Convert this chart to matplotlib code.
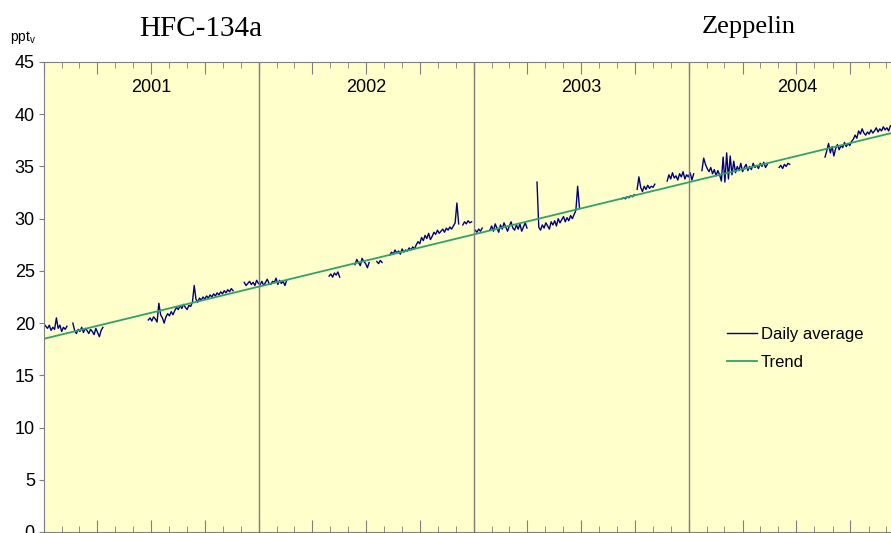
import numpy as np
import matplotlib
matplotlib.use("Agg")
import matplotlib.pyplot as plt
import matplotlib.dates as mdates

# daily averages, one value every 3 days from each start date
step_days = 3
seg_starts = ['2001-01-01', '2001-02-19', '2001-06-27', '2001-12-07', '2002-04-30',
              '2002-06-13', '2002-07-20', '2002-08-11', '2002-12-13', '2003-01-03',
              '2003-01-28', '2003-04-18', '2003-09-09', '2003-10-05', '2003-11-25',
              '2004-01-23', '2004-06-02', '2004-08-19']
seg_values = [
    [19.9, 19.7, 19.5, 19.8, 19.3, 19.6, 19.4, 20.5, 19.5, 19.8, 19.2, 19.6, 19.4, 19.7],
    [20.0, 19.3, 19.0, 19.4, 19.2, 19.6, 19.1, 19.5, 19.3, 19.0, 19.4, 19.2, 18.9, 19.5,
     19.1, 18.7, 19.3, 19.6],
    [20.3, 20.5, 20.2, 20.6, 20.4, 20.1, 21.9, 20.8, 20.5, 20.0, 20.6, 20.9, 20.7, 21.1,
     20.8, 21.2, 21.5, 21.3, 21.7, 21.4, 21.8, 21.5, 21.3, 21.7, 21.6, 22.0, 23.6, 22.3,
     22.0, 22.4, 22.2, 22.5, 22.3, 22.6, 22.4, 22.7, 22.5, 22.8, 22.6, 22.9, 22.7, 23.0,
     22.8, 23.1, 22.9, 23.2, 23.0, 23.3, 23.1],
    [23.9, 23.6, 23.8, 24.0, 23.7, 23.9, 23.6, 24.1, 23.8, 23.7, 24.0, 23.6, 23.9, 24.2,
     23.8, 23.7, 24.0, 23.9, 24.3, 23.7, 24.1, 23.8, 24.0, 23.6, 24.1],
    [24.5, 24.7, 24.4, 24.8, 24.6, 24.9, 24.4],
    [25.6, 26.1, 25.8, 25.5, 26.2, 25.9, 25.7, 25.3, 25.8],
    [25.9, 25.7, 26.0, 25.8],
    [26.5, 26.8, 26.6, 27.0, 26.7, 26.9, 26.6, 27.1, 26.8, 27.0, 26.9, 27.2, 27.0, 27.3,
     27.1, 27.5, 27.8, 27.6, 28.2, 27.9, 28.4, 28.1, 28.6, 28.0, 28.3, 28.7, 28.5, 28.9,
     28.6, 28.8, 29.0, 28.7, 29.1, 28.9, 29.2, 29.0, 29.3, 29.6, 31.5, 29.5],
    [29.4, 29.7, 29.5, 29.8, 29.6, 29.7],
    [28.9, 28.7, 29.0, 28.8, 29.1],
    [28.9, 29.3, 28.8, 29.5, 29.1, 28.7, 29.4, 29.0, 29.6, 29.2, 28.8, 29.3, 29.7, 29.1,
     28.9, 29.4, 29.0, 29.5, 28.8, 29.2, 29.6, 29.1],
    [33.5, 29.2, 28.9, 29.4, 29.1, 29.6, 29.3, 29.0, 29.7, 29.4, 29.8, 29.3, 30.0, 29.6,
     29.9, 30.2, 29.7, 30.1, 29.8, 30.3, 30.0, 30.4, 30.8, 33.1, 31.1],
    [31.9, 32.0, 31.9, 32.1, 32.0, 32.2, 32.1, 32.3],
    [32.8, 34.0, 33.0, 32.6, 33.1, 32.8, 33.2, 32.9, 33.1, 33.0, 33.3],
    [33.6, 34.2, 33.8, 34.4, 33.9, 34.1, 33.7, 34.3, 34.0, 34.5, 33.8, 34.2, 34.0, 34.4,
     33.7, 34.3],
    [34.6, 35.8, 35.2, 34.8, 34.5, 34.9, 34.3, 34.7, 34.1, 34.6, 34.2, 33.6, 35.9, 33.5,
     36.3, 33.8, 36.0, 34.2, 35.5, 34.4, 35.0, 34.6, 35.3, 34.5, 34.9, 35.2, 34.6, 35.0,
     34.7, 35.3, 34.9, 35.1, 34.8, 35.3, 35.0, 35.4, 34.9, 35.2],
    [34.9, 35.1, 34.8, 35.2, 35.0, 35.3, 35.2],
    [35.9, 36.5, 37.2, 36.3, 36.9, 36.0, 36.7, 37.1, 36.6, 37.0, 36.8, 37.3, 36.9, 37.2,
     37.0, 37.4, 37.6, 38.0, 37.7, 38.4, 38.1, 38.6, 38.2, 38.0, 38.3, 38.1, 38.5, 38.2,
     38.4, 38.7, 38.3, 38.6, 38.4, 38.8, 38.5, 38.7, 38.4, 38.9],
]

trend_dates = ['2001-01-01', '2005-01-01']
trend_values = [18.5, 38.5]

years = [2001, 2002, 2003, 2004]
x_start = '2001-01-01'
x_end = '2004-12-09'

navy = '#000080'
green = '#33a06a'
grey = '#7f7f7f'

fig = plt.figure(figsize=(8.91, 5.33), dpi=100)
ax = fig.add_axes([44 / 891, 1 / 533, 847 / 891, 470 / 533])
ax.set_facecolor('#ffffcc')

for i, (start, vals) in enumerate(zip(seg_starts, seg_values)):
    d = np.datetime64(start) + np.arange(len(vals)) * np.timedelta64(step_days, 'D')
    ax.plot(d, vals, color=navy, lw=1.0, label='Daily average' if i == 0 else None)

ax.plot(np.array(trend_dates, dtype='datetime64[D]'), trend_values, color=green, lw=1.3,
        label='Trend')

for y in years[1:]:
    ax.axvline(np.datetime64(f'{y}-01-01'), color=grey, lw=1.0)
for y in years:
    ax.text(np.datetime64(f'{y}-07-02'), 42.6, str(y), ha='center', va='center',
            fontsize=13, family='Liberation Sans')

ax.set_xlim(np.datetime64(x_start), np.datetime64(x_end))
ax.set_ylim(0, 45)
ax.set_yticks(range(0, 46, 5))
ax.xaxis.set_major_locator(mdates.MonthLocator(bymonth=[1, 4, 7, 10]))
ax.xaxis.set_minor_locator(mdates.MonthLocator())
ax.tick_params(axis='x', which='both', direction='in', top=True, bottom=True,
               labelbottom=False, color=grey)
ax.tick_params(axis='x', which='major', length=8.6)
ax.tick_params(axis='x', which='minor', length=4.3)
ax.tick_params(axis='y', direction='out', length=3.6, color=grey, labelsize=13, pad=3)
for lab in ax.get_yticklabels():
    lab.set_family('Liberation Sans')
for s in ax.spines.values():
    s.set_color(grey)
ax.spines['right'].set_visible(False)

leg = ax.legend(loc='upper left', bbox_to_anchor=(0.806, 0.436), frameon=False,
                prop={'family': 'Liberation Sans', 'size': 12}, handlelength=1.8,
                handletextpad=0.25, labelspacing=0.75, borderpad=0, borderaxespad=0)

fig.text(201 / 891, 1 - 36 / 533, 'HFC-134a', ha='center', va='baseline',
         fontsize=21, family='Liberation Serif')
fig.text(749 / 891, 1 - 33 / 533, 'Zeppelin', ha='center', va='baseline',
         fontsize=19, family='Liberation Serif')
fig.text(10 / 891, 1 - 41 / 533, r'ppt$_\mathregular{v}$', ha='left', va='baseline',
         fontsize=10, family='Liberation Sans')

fig.savefig('out.png', dpi=100)
